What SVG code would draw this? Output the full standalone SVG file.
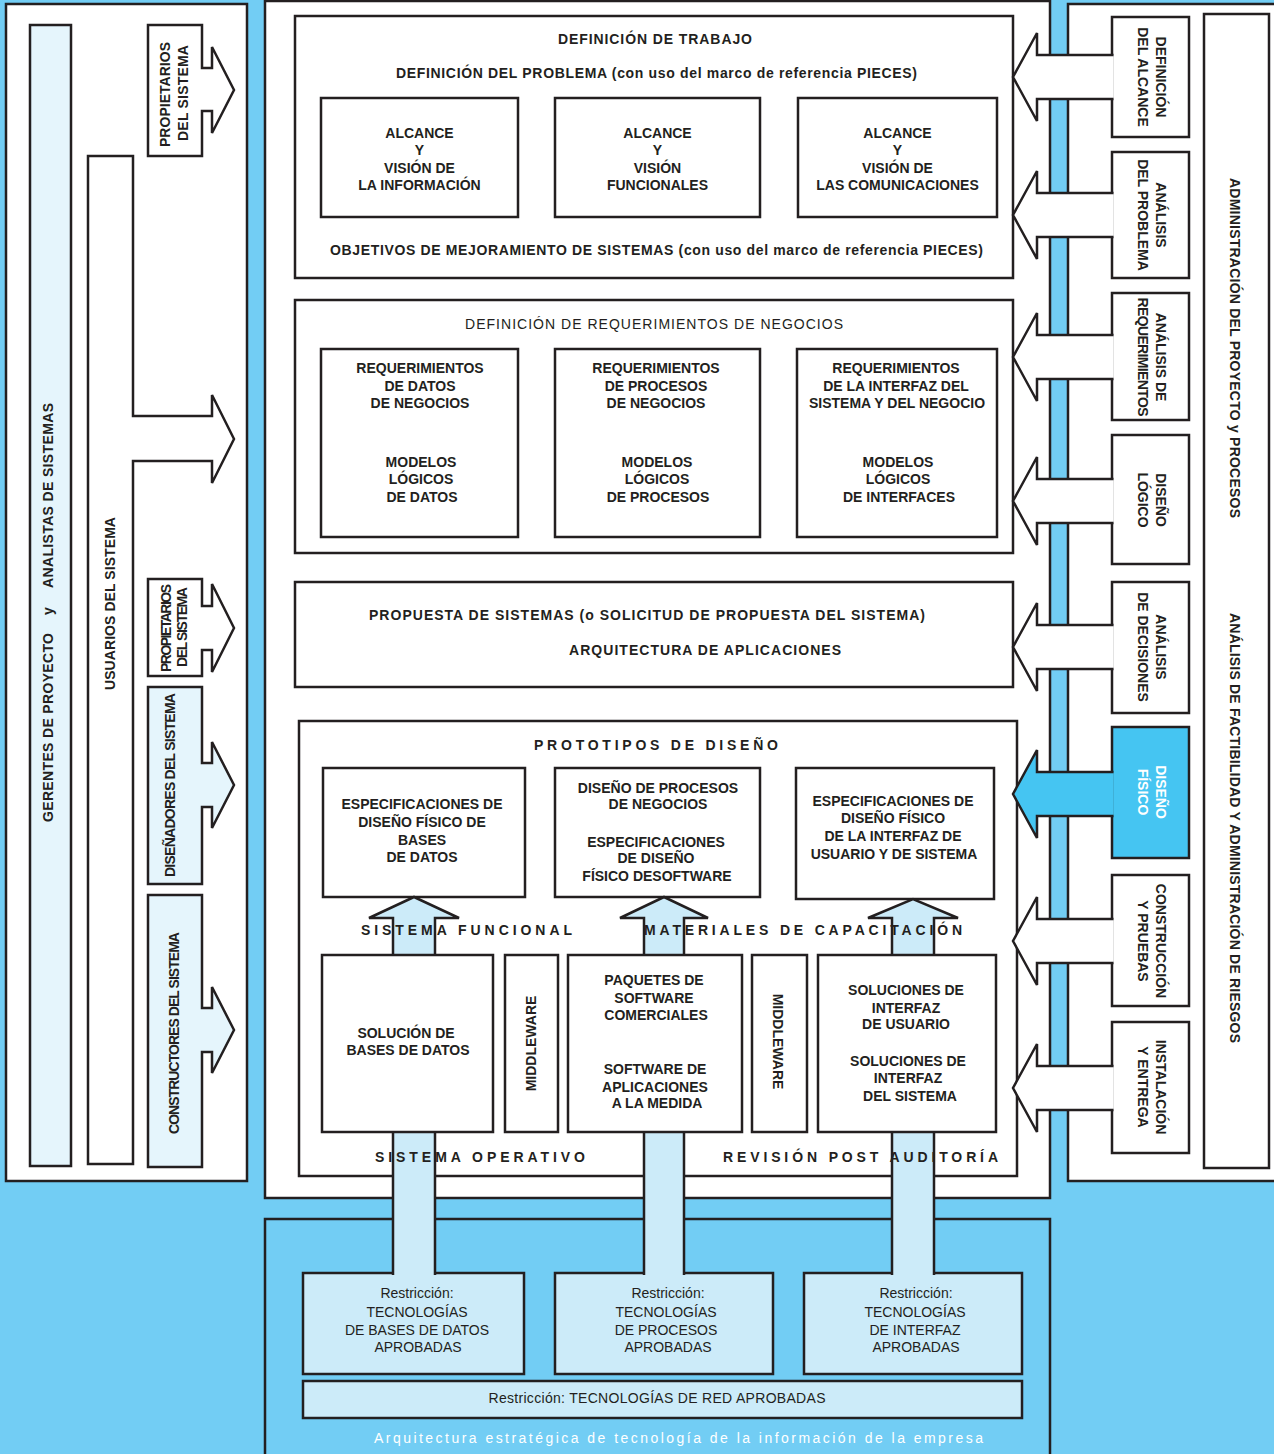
<svg xmlns="http://www.w3.org/2000/svg" width="1274" height="1454" viewBox="0 0 1274 1454">
<style>
.s{stroke:#231F20;stroke-width:2.5;stroke-linejoin:miter}
.w{fill:#fff}
.lb{fill:#E5F5FC}
.ab{fill:#CCEBF9}
.bb{fill:#45C5F2}
.t{font-family:"Liberation Sans",Arial,sans-serif;font-weight:bold;font-size:14px;fill:#231F20;text-anchor:middle}
.r{font-weight:normal}
.sp{text-anchor:start}
.wt{fill:#fff}
</style>
<rect width="1274" height="1454" fill="#72CDF4"/>

<g id="panel-left"><rect x="6" y="4" width="241" height="1177" class="s w"/></g>
<g id="panel-center"><rect x="265" y="1" width="785" height="1197" class="s w"/></g>
<g id="panel-right"><rect x="1068" y="4" width="210" height="1177" class="s w"/></g>
<g id="panel-bottom"><rect x="265" y="1219" width="785" height="250" class="s" fill="#72CDF4"/>
<text class="t r wt sp" font-size="17" x="374" y="1443" textLength="609">Arquitectura estratégica de tecnología de la información de la empresa</text></g>

<!-- left roles -->
<g id="gerentes">
<rect x="30" y="25" width="41" height="1141" class="s lb"/>
<text class="t" font-size="14.5" transform="translate(53,727.5) rotate(-90)" textLength="189">GERENTES DE PROYECTO</text>
<text class="t" font-size="14.5" transform="translate(53,611) rotate(-90)">y</text>
<text class="t" font-size="14.5" transform="translate(53,495.5) rotate(-90)" textLength="185">ANALISTAS DE SISTEMAS</text>
</g>
<g id="usuarios">
<path d="M88,156 H133 V416 H212 V395 L234,439 L212,483 V461 H133 V1164 H88 Z" class="s w"/>
<text class="t" transform="translate(115,603.5) rotate(-90)" textLength="173">USUARIOS DEL SISTEMA</text>
</g>
<g id="propietarios-1">
<path d="M148,25 H202 V68 H212 V47 L234,90 L212,133 V111 H202 V156 H148 Z" class="s w"/>
<text class="t" transform="translate(170,94.5) rotate(-90)" textLength="105">PROPIETARIOS</text>
<text class="t" transform="translate(188,93) rotate(-90)" textLength="96">DEL SISTEMA</text>
</g>
<g id="propietarios-2">
<path d="M148,579 H202 V606 H212 V584 L234,628 L212,672 V650 H202 V676 H148 Z" class="s w"/>
<text class="t" font-size="12" transform="translate(170.5,628) rotate(-90)" textLength="88">PROPIETARIOS</text>
<text class="t" font-size="12" transform="translate(187,627) rotate(-90)" textLength="80">DEL SISTEMA</text>
</g>
<g id="disenadores">
<path d="M148,687 H202 V763 H212 V742 L234,785 L212,828 V807 H202 V884 H148 Z" class="s lb"/>
<text class="t" font-size="13" transform="translate(175,785) rotate(-90)" textLength="184">DISEÑADORES DEL SISTEMA</text>
</g>
<g id="constructores">
<path d="M148,895 H202 V1008 H212 V987 L234,1030 L212,1073 V1052 H202 V1167 H148 Z" class="s lb"/>
<text class="t" font-size="12.5" transform="translate(179,1033) rotate(-90)" textLength="202">CONSTRUCTORES DEL SISTEMA</text>
</g>

<!-- center block 1 -->
<g id="definicion-trabajo">
<rect x="295" y="16" width="718" height="262" class="s w"/>
<text class="t" x="655" y="44" textLength="194">DEFINICIÓN DE TRABAJO</text>
<text class="t" x="656.5" y="78" textLength="521">DEFINICIÓN DEL PROBLEMA (con uso del marco de referencia PIECES)</text>
<text class="t" x="656.5" y="255" textLength="653">OBJETIVOS DE MEJORAMIENTO DE SISTEMAS (con uso del marco de referencia PIECES)</text>
</g>
<g id="alcance-informacion">
<rect x="321" y="98" width="197" height="119" class="s w"/>
<text class="t" x="419.5" y="138">ALCANCE</text><text class="t" x="419.5" y="155">Y</text><text class="t" x="419.5" y="173">VISIÓN DE</text><text class="t" x="419.5" y="190">LA INFORMACIÓN</text>
</g>
<g id="alcance-funcionales">
<rect x="555" y="98" width="205" height="119" class="s w"/>
<text class="t" x="657.5" y="138">ALCANCE</text><text class="t" x="657.5" y="155">Y</text><text class="t" x="657.5" y="173">VISIÓN</text><text class="t" x="657.5" y="190">FUNCIONALES</text>
</g>
<g id="alcance-comunicaciones">
<rect x="798" y="98" width="199" height="119" class="s w"/>
<text class="t" x="897.5" y="138">ALCANCE</text><text class="t" x="897.5" y="155">Y</text><text class="t" x="897.5" y="173">VISIÓN DE</text><text class="t" x="897.5" y="190">LAS COMUNICACIONES</text>
</g>

<!-- center block 2 -->
<g id="requerimientos-negocios">
<rect x="295" y="300" width="718" height="253" class="s w"/>
<text class="t r" x="654" y="329" textLength="378">DEFINICIÓN DE REQUERIMIENTOS DE NEGOCIOS</text>
</g>
<g id="req-datos">
<rect x="321" y="349" width="197" height="188" class="s w"/>
<text class="t" x="420" y="373">REQUERIMIENTOS</text><text class="t" x="420" y="391">DE DATOS</text><text class="t" x="420" y="408">DE NEGOCIOS</text>
<text class="t" x="421" y="467">MODELOS</text><text class="t" x="421" y="484">LÓGICOS</text><text class="t" x="422" y="502">DE DATOS</text>
</g>
<g id="req-procesos">
<rect x="555" y="349" width="205" height="188" class="s w"/>
<text class="t" x="656" y="373">REQUERIMIENTOS</text><text class="t" x="656" y="391">DE PROCESOS</text><text class="t" x="656" y="408">DE NEGOCIOS</text>
<text class="t" x="657" y="467">MODELOS</text><text class="t" x="657" y="484">LÓGICOS</text><text class="t" x="658" y="502">DE PROCESOS</text>
</g>
<g id="req-interfaz">
<rect x="797" y="349" width="200" height="188" class="s w"/>
<text class="t" x="896" y="373">REQUERIMIENTOS</text><text class="t" x="896" y="391">DE LA INTERFAZ DEL</text><text class="t" x="897" y="408">SISTEMA Y DEL NEGOCIO</text>
<text class="t" x="898" y="467">MODELOS</text><text class="t" x="898" y="484">LÓGICOS</text><text class="t" x="899" y="502">DE INTERFACES</text>
</g>

<!-- center block 3 -->
<g id="propuesta">
<rect x="295" y="582" width="718" height="105" class="s w"/>
<text class="t" x="647" y="620" textLength="556">PROPUESTA DE SISTEMAS (o SOLICITUD DE PROPUESTA DEL SISTEMA)</text>
<text class="t" x="705" y="655" textLength="272">ARQUITECTURA DE APLICACIONES</text>
</g>

<!-- center block 4 -->
<g id="prototipos">
<rect x="299" y="721" width="718" height="455" class="s w"/>
<text class="t sp" font-size="13" x="534" y="750" textLength="244">PROTOTIPOS DE DISEÑO</text>
</g>
<g id="esp-bd">
<rect x="323" y="768" width="202" height="129" class="s w"/>
<text class="t" x="422" y="809">ESPECIFICACIONES DE</text><text class="t" x="422" y="827">DISEÑO FÍSICO DE</text><text class="t" x="422" y="845">BASES</text><text class="t" x="422" y="862">DE DATOS</text>
</g>
<g id="esp-procesos">
<rect x="555" y="768" width="205" height="129" class="s w"/>
<text class="t" x="658" y="793">DISEÑO DE PROCESOS</text><text class="t" x="658" y="809">DE NEGOCIOS</text>
<text class="t" x="656" y="847">ESPECIFICACIONES</text><text class="t" x="656" y="863">DE DISEÑO</text><text class="t" x="657" y="881">FÍSICO DESOFTWARE</text>
</g>
<g id="esp-interfaz">
<rect x="796" y="768" width="198" height="131" class="s w"/>
<text class="t" x="893" y="806">ESPECIFICACIONES DE</text><text class="t" x="893" y="823">DISEÑO FÍSICO</text><text class="t" x="893" y="841">DE LA INTERFAZ DE</text><text class="t" x="894" y="859">USUARIO Y DE SISTEMA</text>
</g>

<!-- restriction boxes -->
<g id="restr-bd">
<rect x="303" y="1273" width="221" height="101" class="s ab"/>
<text class="t r" x="417" y="1298">Restricción:</text><text class="t r" x="417" y="1317">TECNOLOGÍAS</text><text class="t r" x="417" y="1335">DE BASES DE DATOS</text><text class="t r" x="418" y="1352">APROBADAS</text>
</g>
<g id="restr-procesos">
<rect x="555" y="1273" width="218" height="101" class="s ab"/>
<text class="t r" x="668" y="1298">Restricción:</text><text class="t r" x="666" y="1317">TECNOLOGÍAS</text><text class="t r" x="666" y="1335">DE PROCESOS</text><text class="t r" x="668" y="1352">APROBADAS</text>
</g>
<g id="restr-interfaz">
<rect x="804" y="1273" width="218" height="101" class="s ab"/>
<text class="t r" x="916" y="1298">Restricción:</text><text class="t r" x="915" y="1317">TECNOLOGÍAS</text><text class="t r" x="915" y="1335">DE INTERFAZ</text><text class="t r" x="916" y="1352">APROBADAS</text>
</g>
<g id="restr-red">
<rect x="303" y="1381" width="719" height="37" class="s ab"/>
<text class="t r" x="657" y="1403" textLength="337">Restricción: TECNOLOGÍAS DE RED APROBADAS</text>
</g>

<!-- right panel -->
<g id="admin">
<rect x="1204" y="14" width="65" height="1154" class="s w"/>
<text class="t" transform="translate(1230,348) rotate(90)" textLength="340">ADMINISTRACIÓN DEL PROYECTO y PROCESOS</text>
<text class="t" transform="translate(1230,828) rotate(90)" textLength="430">ANÁLISIS DE FACTIBILIDAD Y ADMINISTRACIÓN DE RIESGOS</text>
</g>
<g id="fase-boxes">
<rect x="1112" y="17" width="77" height="120" class="s w"/>
<rect x="1112" y="152" width="77" height="126" class="s w"/>
<rect x="1112" y="293" width="77" height="127" class="s w"/>
<rect x="1112" y="435" width="77" height="129" class="s w"/>
<rect x="1112" y="582" width="77" height="131" class="s w"/>
<rect x="1112" y="727" width="77" height="131" class="s bb"/>
<rect x="1112" y="875" width="77" height="131" class="s w"/>
<rect x="1112" y="1022" width="77" height="131" class="s w"/>
</g>

<!-- connectors -->
<g id="connectors">
<path class="s ab" d="M393,1275 V918 H369 L414,897 L459,918 H435 V1275"/>
<path class="s ab" d="M644,1275 V918 H620 L664,897 L708,918 H684 V1275"/>
<path class="s ab" d="M892,1275 V918 H868 L913,899 L958,918 H934 V1275"/>
<path class="s w" d="M1113.5,55 H1037 V33 L1013,77 L1037,121 V99 H1113.5"/>
<path class="s w" d="M1113.5,193 H1037 V171 L1013,215 L1037,259 V237 H1113.5"/>
<path class="s w" d="M1113.5,335 H1037 V313 L1013,357 L1037,401 V379 H1113.5"/>
<path class="s w" d="M1113.5,479 H1037 V457 L1013,501 L1037,545 V523 H1113.5"/>
<path class="s w" d="M1113.5,625 H1037 V603 L1013,647 L1037,691 V669 H1113.5"/>
<path class="s bb" d="M1113.5,772 H1037 V750 L1013,794 L1037,838 V816 H1113.5"/>
<path class="s w" d="M1113.5,919 H1037 V897 L1013,941 L1037,985 V963 H1113.5"/>
<path class="s w" d="M1113.5,1066 H1037 V1044 L1013,1088 L1037,1132 V1110 H1113.5"/>
</g>

<!-- right phase labels -->
<g id="fase-definicion"><text class="t" transform="translate(1156,77) rotate(90)">DEFINICIÓN</text><text class="t" transform="translate(1138,77) rotate(90)">DEL ALCANCE</text></g>
<g id="fase-problema"><text class="t" transform="translate(1156,215) rotate(90)">ANÁLISIS</text><text class="t" transform="translate(1138,215) rotate(90)">DEL PROBLEMA</text></g>
<g id="fase-requerimientos"><text class="t" font-size="13.5" transform="translate(1156,357) rotate(90)">ANÁLISIS DE</text><text class="t" font-size="13" transform="translate(1138,357) rotate(90)" textLength="119">REQUERIMIENTOS</text></g>
<g id="fase-logico"><text class="t" transform="translate(1156,500) rotate(90)">DISEÑO</text><text class="t" transform="translate(1138,500) rotate(90)">LÓGICO</text></g>
<g id="fase-decisiones"><text class="t" transform="translate(1156,647) rotate(90)">ANÁLISIS</text><text class="t" transform="translate(1138,647) rotate(90)">DE DECISIONES</text></g>
<g id="fase-fisico"><text class="t wt" transform="translate(1156,792) rotate(90)">DISEÑO</text><text class="t wt" transform="translate(1138,792) rotate(90)">FÍSICO</text></g>
<g id="fase-construccion"><text class="t" transform="translate(1156,941) rotate(90)">CONSTRUCCIÓN</text><text class="t" transform="translate(1138,941) rotate(90)">Y PRUEBAS</text></g>
<g id="fase-instalacion"><text class="t" transform="translate(1156,1087) rotate(90)">INSTALACIÓN</text><text class="t" transform="translate(1138,1087) rotate(90)">Y ENTREGA</text></g>

<!-- labels over shafts -->
<g id="labels-prototipos">
<text class="t sp" font-size="13" x="361" y="935" textLength="211">SISTEMA FUNCIONAL</text>
<text class="t sp" font-size="13" x="644" y="935" textLength="318">MATERIALES DE CAPACITACIÓN</text>
<text class="t sp" font-size="13" x="375" y="1162" textLength="210">SISTEMA OPERATIVO</text>
<text class="t sp" font-size="13" x="723" y="1162" textLength="275">REVISIÓN POST AUDITORÍA</text>
</g>

<!-- bottom row of prototipos -->
<g id="solucion-bd">
<rect x="322" y="955" width="171" height="177" class="s w"/>
<text class="t" x="406" y="1038">SOLUCIÓN DE</text><text class="t" x="408" y="1055">BASES DE DATOS</text>
</g>
<g id="middleware-1">
<rect x="505" y="955" width="53" height="177" class="s w"/>
<text class="t" transform="translate(536,1043.5) rotate(-90)">MIDDLEWARE</text>
</g>
<g id="paquetes">
<rect x="568" y="955" width="174" height="177" class="s w"/>
<text class="t" x="654" y="985">PAQUETES DE</text><text class="t" x="654" y="1003">SOFTWARE</text><text class="t" x="656" y="1020">COMERCIALES</text>
<text class="t" x="655" y="1074">SOFTWARE DE</text><text class="t" x="655" y="1092">APLICACIONES</text><text class="t" x="657" y="1108">A LA MEDIDA</text>
</g>
<g id="middleware-2">
<rect x="752" y="955" width="55" height="177" class="s w"/>
<text class="t" transform="translate(773,1041.5) rotate(90)">MIDDLEWARE</text>
</g>
<g id="soluciones-interfaz">
<rect x="818" y="955" width="178" height="177" class="s w"/>
<text class="t" x="906" y="995">SOLUCIONES DE</text><text class="t" x="906" y="1013">INTERFAZ</text><text class="t" x="906" y="1029">DE USUARIO</text>
<text class="t" x="908" y="1066">SOLUCIONES DE</text><text class="t" x="908" y="1083">INTERFAZ</text><text class="t" x="910" y="1101">DEL SISTEMA</text>
</g>
</svg>
